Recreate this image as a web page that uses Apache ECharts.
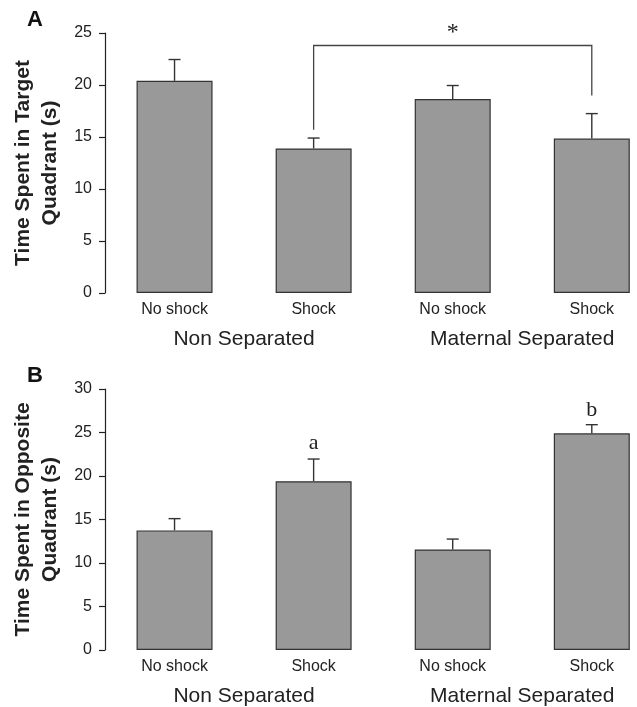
<!DOCTYPE html>
<html><head><meta charset="utf-8">
<script src="https://cdn.jsdelivr.net/npm/echarts@6/dist/echarts.min.js"></script>
<style>html,body{margin:0;padding:0;background:#fff}#c{width:637px;height:707px}</style>
</head><body><div id="c"></div>
<script>
// ---- data ----
var categories = ['No shock', 'Shock', 'No shock', 'Shock'];
var groups = ['Non Separated', 'Maternal Separated'];
var targetMeans = [20.4, 13.9, 18.65, 14.85];
var targetSem = [2.05, 1.0, 1.3, 2.4];
var oppositeMeans = [13.75, 19.4, 11.55, 24.9];
var oppositeSem = [1.35, 2.55, 1.2, 1.0];
var targetTicks = [0, 5, 10, 15, 20, 25];
var oppositeTicks = [0, 5, 10, 15, 20, 25, 30];
// significance bracket in panel A: [fromIndex, toIndex, leftBottom, rightBottom, top, starY]
var bracketA = [1, 3, 15.7, 19.0, 23.8, 25.3];
// letters in panel B: [index, label, y]
var lettersB = [[1, 'a', 23.8], [3, 'b', 27.6]];

var INK = '#222';
var SANS = 'Liberation Sans, Arial, sans-serif';
var SERIF = 'Liberation Serif, Times New Roman, serif';
var XMIN = -0.5, XMAX = 3.325;
var catPos = categories.map(function (c, i) { return i; });
var grpPos = [0.5, 2.5];

function pairs(vals) { return vals.map(function (v, i) { return [i, v]; }); }
function errData(means, sem) {
  return means.map(function (m, i) { return [i, m, m + sem[i]]; });
}
function errRender(params, api) {
  var p0 = api.coord([api.value(0), api.value(1)]);
  var p1 = api.coord([api.value(0), api.value(2)]);
  var hw = 6;
  return {
    type: 'group',
    children: [
      { type: 'line', shape: { x1: p0[0], y1: p0[1], x2: p1[0], y2: p1[1] }, style: { stroke: '#333', lineWidth: 1.4 } },
      { type: 'line', shape: { x1: p1[0] - hw, y1: p1[1], x2: p1[0] + hw, y2: p1[1] }, style: { stroke: '#333', lineWidth: 1.4 } }
    ]
  };
}

function yAxis(gi, max, ticks, name) {
  return {
    type: 'value', gridIndex: gi, min: 0, max: max, interval: 5,
    axisLine: { show: true, onZero: false, lineStyle: { color: INK, width: 1.2 } },
    axisTick: { show: true, length: 6, lineStyle: { color: INK, width: 1.2 } },
    axisLabel: { color: INK, fontSize: 16, fontFamily: SANS, margin: 13,
      formatter: function (v) { return ticks.indexOf(v) >= 0 ? String(v) : ''; } },
    splitLine: { show: false },
    name: name, nameLocation: 'middle', nameGap: 34, nameRotate: 90,
    nameTextStyle: { color: INK, fontSize: 21, fontWeight: 'bold', fontFamily: SANS, lineHeight: 27 }
  };
}
function catAxis(gi) {
  return {
    type: 'value', gridIndex: gi, min: XMIN, max: XMAX,
    axisLine: { show: false, onZero: false }, axisTick: { show: false }, splitLine: { show: false },
    axisLabel: { color: INK, fontSize: 16, fontFamily: SANS, margin: 9,
      customValues: catPos, showMinLabel: true, showMaxLabel: true,
      formatter: function (v) { return categories[Math.round(v)] || ''; } }
  };
}
function grpAxis(gi) {
  return {
    type: 'value', gridIndex: gi, min: XMIN, max: XMAX, position: 'bottom',
    axisLine: { show: false, onZero: false }, axisTick: { show: false }, splitLine: { show: false },
    axisLabel: { color: INK, fontSize: 21, fontFamily: SANS, margin: 36,
      customValues: grpPos,
      formatter: function (v) { return groups[grpPos.indexOf(v)] || ''; } }
  };
}
function bars(xi, yi, data) {
  return {
    type: 'bar', xAxisIndex: xi, yAxisIndex: yi, data: pairs(data), barWidth: 76,
    itemStyle: { color: '#999999', borderColor: '#333', borderWidth: 1.2 },
    silent: true, z: 2
  };
}

var option = {
  animation: false,
  backgroundColor: '#fff',
  title: [
    { text: 'A', left: 22, top: 4, textStyle: { fontSize: 22, fontWeight: 'bold', color: '#111', fontFamily: SANS } },
    { text: 'B', left: 22, top: 360, textStyle: { fontSize: 22, fontWeight: 'bold', color: '#111', fontFamily: SANS } }
  ],
  grid: [
    { left: 105, top: 33, right: 0, height: 260 },
    { left: 105, top: 389, right: 0, height: 262 }
  ],
  xAxis: [catAxis(0), grpAxis(0), catAxis(1), grpAxis(1)],
  yAxis: [
    yAxis(0, 25, targetTicks, 'Time Spent in Target\nQuadrant (s)'),
    yAxis(1, 30, oppositeTicks, 'Time Spent in Opposite\nQuadrant (s)')
  ],
  series: [
    bars(0, 0, targetMeans),
    bars(2, 1, oppositeMeans),
    { type: 'custom', xAxisIndex: 0, yAxisIndex: 0, data: errData(targetMeans, targetSem), renderItem: errRender, z: 3, silent: true },
    { type: 'custom', xAxisIndex: 2, yAxisIndex: 1, data: errData(oppositeMeans, oppositeSem), renderItem: errRender, z: 3, silent: true },
    { type: 'custom', xAxisIndex: 0, yAxisIndex: 0, clip: false, silent: true, z: 4,
      data: [bracketA],
      renderItem: function (params, api) {
        var a = api.coord([api.value(0), api.value(2)]);
        var b = api.coord([api.value(1), api.value(3)]);
        var t1 = api.coord([api.value(0), api.value(4)]);
        var t2 = api.coord([api.value(1), api.value(4)]);
        var s = api.coord([(api.value(0) + api.value(1)) / 2, api.value(5)]);
        return { type: 'group', children: [
          { type: 'polyline', shape: { points: [[a[0], a[1]], [t1[0], t1[1]], [t2[0], t2[1]], [b[0], b[1]]] },
            style: { stroke: '#444', lineWidth: 1.3, fill: null } },
          { type: 'text', x: s[0], y: s[1] + 3, style: { text: '*', fontSize: 24, fontFamily: SERIF, fill: '#222', align: 'center', verticalAlign: 'middle' } }
        ] };
      }
    },
    { type: 'custom', xAxisIndex: 2, yAxisIndex: 1, clip: false, silent: true, z: 4,
      data: lettersB,
      renderItem: function (params, api) {
        var p = api.coord([api.value(0), api.value(2)]);
        return { type: 'text', x: p[0], y: p[1], style: { text: lettersB[params.dataIndex][1], fontSize: 22, fontFamily: SERIF, fill: '#222', align: 'center', verticalAlign: 'middle' } };
      }
    }
  ]
};
echarts.init(document.getElementById('c'), null, { renderer: 'canvas' }).setOption(option);
</script></body></html>
